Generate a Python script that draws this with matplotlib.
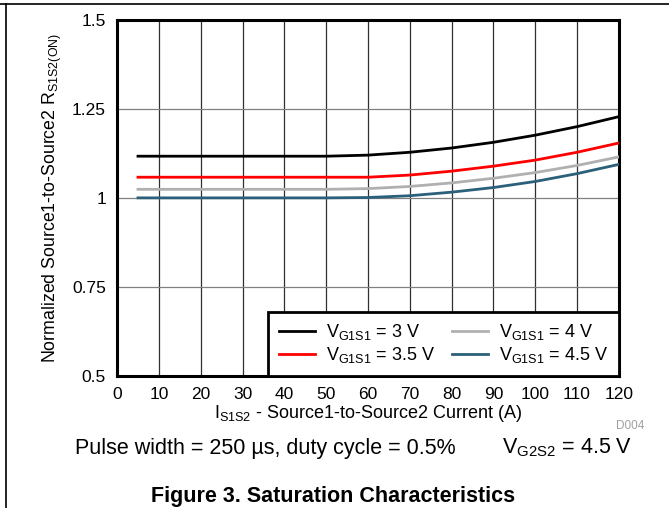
import matplotlib.pyplot as plt

plt.rcParams['font.family'] = ['Liberation Sans', 'DejaVu Sans']

# data
current = [5, 10, 20, 30, 40, 50, 60, 70, 80, 90, 100, 110, 120]
r_3v0 = [1.117, 1.117, 1.117, 1.117, 1.117, 1.117, 1.120, 1.128, 1.140, 1.156, 1.176, 1.200, 1.228]
r_3v5 = [1.058, 1.058, 1.058, 1.058, 1.058, 1.058, 1.058, 1.064, 1.075, 1.089, 1.106, 1.128, 1.154]
r_4v0 = [1.024, 1.024, 1.024, 1.024, 1.024, 1.024, 1.026, 1.032, 1.042, 1.055, 1.071, 1.091, 1.115]
r_4v5 = [1.0, 1.0, 1.0, 1.0, 1.0, 1.0, 1.001, 1.006, 1.016, 1.029, 1.046, 1.068, 1.094]

series = [
    (r_3v0, '#000000', r'V$_{\mathregular{G1S1}}$ = 3 V'),
    (r_3v5, '#FF0000', r'V$_{\mathregular{G1S1}}$ = 3.5 V'),
    (r_4v0, '#B0B0B0', r'V$_{\mathregular{G1S1}}$ = 4 V'),
    (r_4v5, '#2A6079', r'V$_{\mathregular{G1S1}}$ = 4.5 V'),
]

fig = plt.figure(figsize=(6.69, 5.08), dpi=100)
ax = fig.add_axes([0.175, 0.26, 0.75, 0.701])

for vals, col, lab in series:
    ax.plot(current, vals, color=col, linewidth=2, label=lab, zorder=3)

ax.set_xlim(0, 120)
ax.set_ylim(0.5, 1.5)
ax.set_xticks(range(0, 121, 10))
ax.set_yticks([0.5, 0.75, 1, 1.25, 1.5])
ax.set_yticklabels(['0.5', '0.75', '1', '1.25', '1.5'])
ax.tick_params(length=0, labelsize=12.5, pad=8)

# grid
for x in range(10, 120, 10):
    ax.axvline(x, color='#303030', linewidth=0.9, zorder=1)
for y in [0.75, 1, 1.25]:
    ax.axhline(y, color='#808080', linewidth=0.9, zorder=1)

for s in ax.spines.values():
    s.set_linewidth(2.2)

ax.set_xlabel(r'I$_{\mathregular{S1S2}}$ - Source1-to-Source2 Current (A)', fontsize=13, labelpad=1)
ax.set_ylabel(r'Normalized Source1-to-Source2 R$_{\mathregular{S1S2(ON)}}$', fontsize=12.8, labelpad=6)

leg = ax.legend(ncol=2, loc='lower right', bbox_to_anchor=(1, 0), borderaxespad=0,
                fancybox=False, edgecolor='black', fontsize=13, handlelength=2.0,
                columnspacing=0.9, labelspacing=0.15, borderpad=0.6, handletextpad=0.6)
leg.get_frame().set_linewidth(2)
leg.get_frame().set_alpha(1)

fig.text(0.963, 0.161, 'D004', color='#A0A0A0', fontsize=8.5, ha='right', va='center')
fig.text(0.112, 0.118, 'Pulse width = 250 µs, duty cycle = 0.5%', fontsize=15.5, ha='left', va='center')
fig.text(0.945, 0.118, r'V$_{\mathregular{G2S2}}$ = 4.5 V', fontsize=15.5, ha='right', va='center')
fig.text(0.498, 0.022, 'Figure 3. Saturation Characteristics', fontsize=15.5, fontweight='bold',
         ha='center', va='center')

# page border lines
fig.add_artist(plt.Line2D([0, 1], [0.992, 0.992], color='black', linewidth=1.2))
fig.add_artist(plt.Line2D([0.009, 0.009], [0, 0.992], color='black', linewidth=1.2))

plt.savefig('out.png', dpi=100)
